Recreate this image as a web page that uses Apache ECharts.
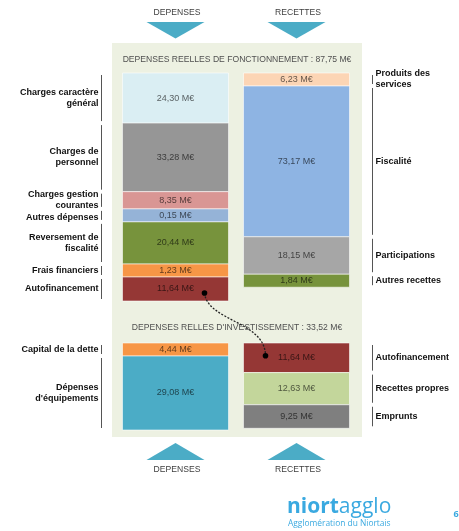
<!DOCTYPE html>
<html><head><meta charset="utf-8">
<script src="https://cdn.jsdelivr.net/npm/echarts@6/dist/echarts.min.js"></script>
<style>html,body{margin:0;padding:0;background:#fff}#c{width:459px;height:531px}</style>
</head><body><div id="c"></div>
<script>
// ---------- DATA ----------
const columns = ['DEPENSES', 'RECETTES'];
const sectionTitles = ['DEPENSES REELLES DE FONCTIONNEMENT : 87,75 M€', "DEPENSES RELLES D'INVESTISSEMENT : 33,52 M€"];

const fonctDepNames = ['Charges caractère\ngénéral', 'Charges de\npersonnel', 'Charges gestion\ncourantes', 'Autres dépenses', 'Reversement de\nfiscalité', 'Frais financiers', 'Autofinancement'];
const fonctDepValues = [24.30, 33.28, 8.35, 0.15, 20.44, 1.23, 11.64];
const fonctRecNames = ['Produits des\nservices', 'Fiscalité', 'Participations', 'Autres recettes'];
const fonctRecValues = [6.23, 73.17, 18.15, 1.84];

const investDepNames = ['Capital de la dette', "Dépenses\nd'équipements"];
const investDepValues = [4.44, 29.08];
const investRecNames = ['Autofinancement', 'Recettes propres', 'Emprunts'];
const investRecValues = [11.64, 12.63, 9.25];

// ---------- STYLES ----------
const fonctDepColors = ['#DAEEF3', '#969696', '#D99694', '#95B3D7', '#77933C', '#F79646', '#953735'];
const fonctRecColors = ['#FCD5B5', '#8EB4E3', '#A6A6A6', '#77933C'];
const investDepColors = ['#F79646', '#4BACC6'];
const investRecColors = ['#953735', '#C3D69B', '#7F7F7F'];

const FONT = '"Liberation Sans", Arial, sans-serif';
const MIN_BLOCK = 13, LINE_H = 11, BAR_RATIO = 0.876;
const anchors = {};

function fmt(v) { return v.toFixed(2).replace('.', ',') + ' M€'; }

function fitMax(valueCols, heightPx) {
  let best = Infinity;
  valueCols.forEach(vals => {
    const total = vals.reduce((a, b) => a + b, 0);
    let s = heightPx / total;
    for (let it = 0; it < 30; it++) {
      let small = 0, big = 0;
      vals.forEach(v => { if (v * s < MIN_BLOCK) small++; else big += v; });
      s = (heightPx - small * MIN_BLOCK) / big;
    }
    best = Math.min(best, s);
  });
  return heightPx / best;
}

function makeRenderer(key, cols) {
  return function (params, api) {
    const c = api.value(0), i = api.value(1);
    const col = cols[c];
    const origin = api.coord([c, 0]);
    const bw = api.size([1, 0])[0] * BAR_RATIO;
    const x0 = origin[0] - bw / 2;
    const hs = col.values.map(v => Math.max(MIN_BLOCK, api.size([0, v])[1]));
    const tops = []; let acc = origin[1];
    hs.forEach(h => { tops.push(acc); acc += h; });
    const lab = []; let prevBottom = -Infinity;
    col.names.forEach((n, k) => {
      const lh = n.split('\n').length * LINE_H;
      let top = tops[k] + hs[k] / 2 - lh / 2;
      if (top < prevBottom + 1) top = prevBottom + 1;
      lab.push(top + lh / 2); prevBottom = top + lh;
    });
    const y = tops[i], h = hs[i], cx = origin[0], cy = y + h / 2;
    const lineX = c === 0 ? Math.round(x0 - 22) + 0.5 : Math.round(x0 + bw + 23) + 0.5;
    const textX = c === 0 ? x0 - 24 : x0 + bw + 26;
    anchors[key + c + '_' + i] = { cx: cx, cy: cy, x0: x0, bw: bw, y: y, h: h };
    return {
      type: 'group',
      children: [
        { type: 'rect', shape: { x: x0, y: y, width: bw, height: h }, style: { fill: col.colors[i], stroke: 'rgba(255,255,255,0.7)', lineWidth: 0.8 } },
        { type: 'text', style: { text: fmt(api.value(2)), x: cx, y: cy, align: 'center', verticalAlign: 'middle', fill: 'rgba(0,0,0,0.62)', font: '9px ' + FONT } },
        { type: 'line', shape: { x1: lineX, y1: y + 2, x2: lineX, y2: y + h - 2 }, style: { stroke: '#555', lineWidth: 1 } },
        { type: 'text', style: { text: col.names[i], x: textX, y: lab[i], align: c === 0 ? 'right' : 'left', verticalAlign: 'middle', fill: '#111', font: 'bold 9px ' + FONT, lineHeight: LINE_H } }
      ]
    };
  };
}

function items(depVals, recVals) {
  return depVals.map((v, i) => [0, i, v]).concat(recVals.map((v, i) => [1, i, v]));
}

const fonctH = 228, investH = 87;
const fonctMax = fitMax([fonctDepValues, fonctRecValues], fonctH);
const investMax = fitMax([investDepValues, investRecValues], investH);

const chart = echarts.init(document.getElementById('c'), null, { renderer: 'canvas' });

function arrow(id, cx, yBase, yApex) {
  return { type: 'polygon', id: id, shape: { points: [[cx - 29, yBase], [cx + 29, yBase], [cx, yApex]] }, style: { fill: '#4BACC6' } };
}
function txt(id, text, x, y, font, fill, align) {
  return { type: 'text', id: id, style: { text: text, x: x, y: y, font: font, fill: fill, align: align || 'center', verticalAlign: 'middle' } };
}

chart.setOption({
  animation: false,
  grid: [
    { left: 115, top: 73, width: 242, height: fonctH },
    { left: 115, top: 343, width: 242, height: investH }
  ],
  xAxis: [
    { type: 'category', data: columns, gridIndex: 0, show: false },
    { type: 'category', data: columns, gridIndex: 1, show: false }
  ],
  yAxis: [
    { type: 'value', gridIndex: 0, inverse: true, min: 0, max: fonctMax, show: false },
    { type: 'value', gridIndex: 1, inverse: true, min: 0, max: investMax, show: false }
  ],
  graphic: { elements: [
    { type: 'rect', id: 'panel', z: -10, shape: { x: 112, y: 43, width: 250, height: 394 }, style: { fill: '#EDF1E2' } },
    txt('t0', sectionTitles[0], 237, 59.5, '8.6px ' + FONT, '#505050'),
    txt('t1', sectionTitles[1], 237, 327.5, '8.6px ' + FONT, '#505050'),
    arrow('a0', 175.5, 22, 38.5),
    arrow('a1', 296.5, 22, 38.5),
    arrow('a2', 175.5, 460, 443),
    arrow('a3', 296.5, 460, 443),
    txt('c0', columns[0], 177, 12.5, '8.6px ' + FONT, '#404040'),
    txt('c1', columns[1], 298, 12.5, '8.6px ' + FONT, '#404040'),
    txt('c2', columns[0], 177, 470, '8.6px ' + FONT, '#404040'),
    txt('c3', columns[1], 298, 470, '8.6px ' + FONT, '#404040'),
    { type: 'text', id: 'logo', style: { text: '{a|niort}{b|agglo}', x: 287, y: 518, verticalAlign: 'bottom', align: 'left',
      rich: { a: { font: 'bold 21px "Open Sans", sans-serif', fill: '#3AA9E0' }, b: { font: '21px "Open Sans", sans-serif', fill: '#3AA9E0' } } } },
    txt('logo2', 'Agglomération du Niortais', 288, 524, '8.4px "Open Sans", sans-serif', '#3AA9E0', 'left'),
    txt('page', '6', 456, 514, 'bold 9px "Open Sans", sans-serif', '#3AA9E0')
  ] },
  series: [
    { type: 'custom', xAxisIndex: 0, yAxisIndex: 0, encode: { x: 0, y: 2 },
      renderItem: makeRenderer('f', [
        { values: fonctDepValues, names: fonctDepNames, colors: fonctDepColors },
        { values: fonctRecValues, names: fonctRecNames, colors: fonctRecColors }
      ]),
      data: items(fonctDepValues, fonctRecValues) },
    { type: 'custom', xAxisIndex: 1, yAxisIndex: 1, encode: { x: 0, y: 2 },
      renderItem: makeRenderer('i', [
        { values: investDepValues, names: investDepNames, colors: investDepColors },
        { values: investRecValues, names: investRecNames, colors: investRecColors }
      ]),
      data: items(investDepValues, investRecValues) }
  ]
});

// connector between the two "Autofinancement" blocks
const a = anchors['f0_6'], b = anchors['i1_0'];
if (a && b) {
  const sx = a.cx + 29, sy = a.cy + 4;
  const ex = b.cx - 31, ey = b.cy - 2;
  const my = sy + (ey - sy) * 0.45;
  chart.setOption({ graphic: { elements: [
    { type: 'bezierCurve', id: 'conn', z: 100, shape: { x1: sx, y1: sy, cpx1: sx + 3, cpy1: my, cpx2: ex, cpy2: my, x2: ex, y2: ey },
      style: { stroke: '#222', lineWidth: 1.3, lineDash: [2, 1.5], fill: null } },
    { type: 'circle', id: 'd1', z: 101, shape: { cx: sx, cy: sy, r: 2.8 }, style: { fill: '#000' } },
    { type: 'circle', id: 'd2', z: 101, shape: { cx: ex, cy: ey, r: 2.8 }, style: { fill: '#000' } }
  ] } });
}
</script></body></html>
